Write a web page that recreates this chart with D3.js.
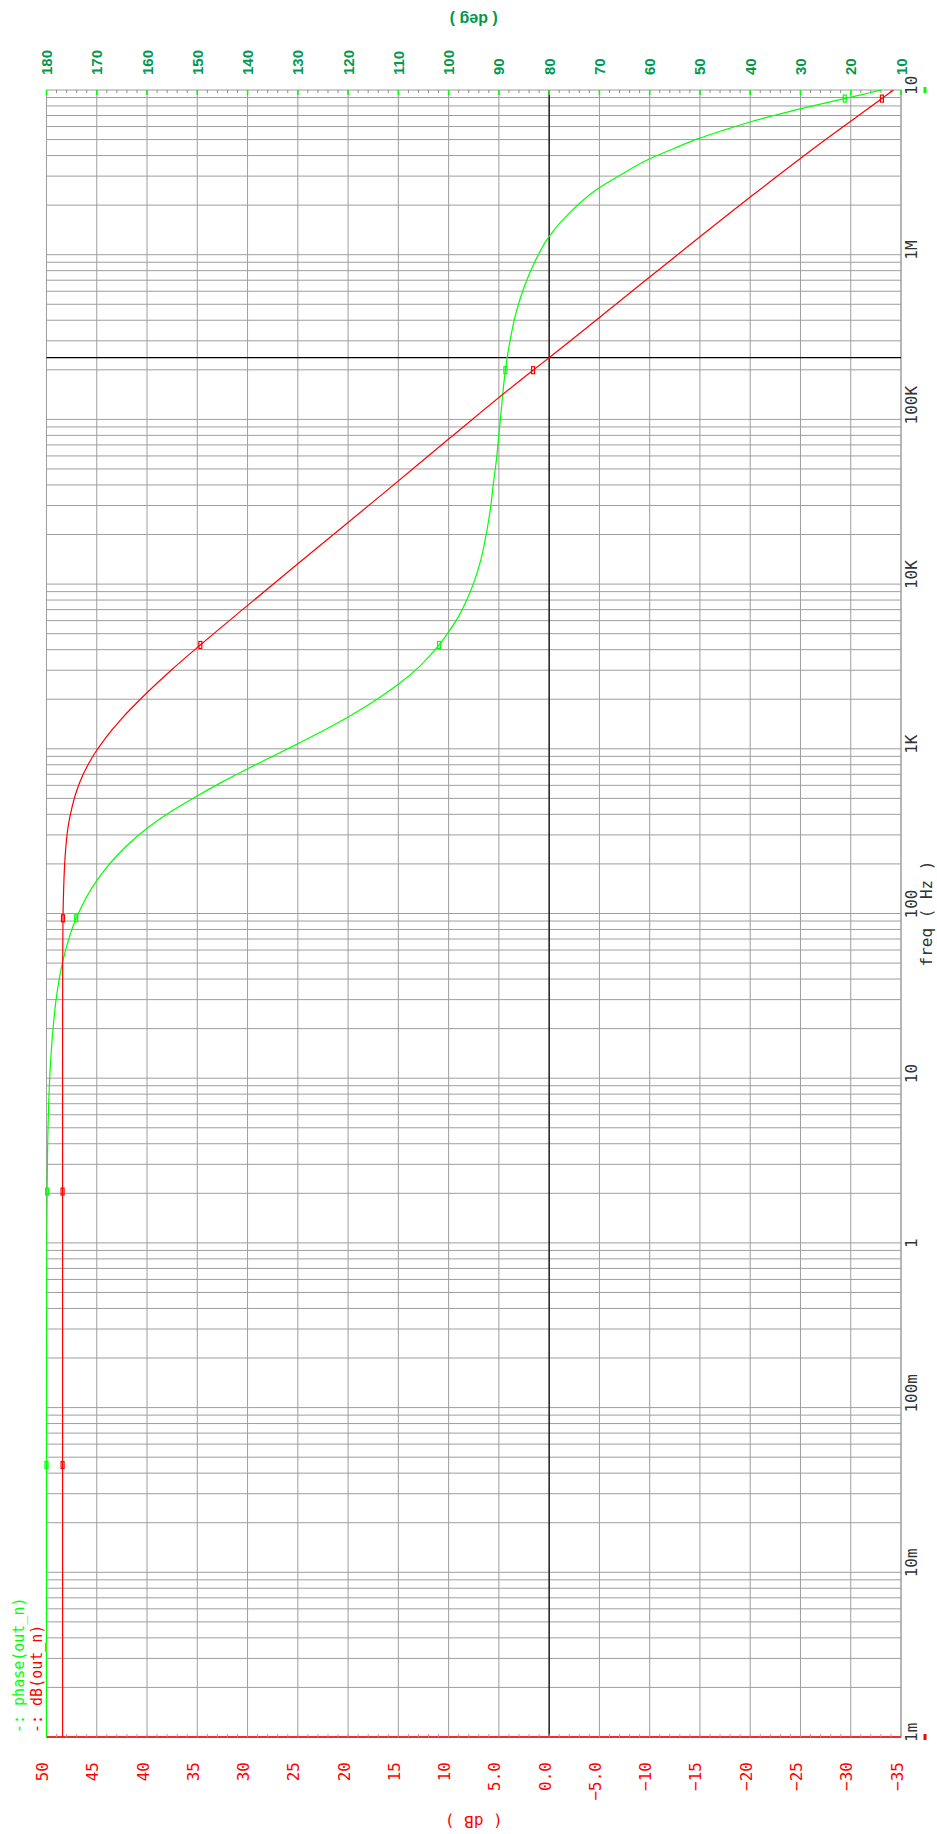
<!DOCTYPE html>
<html>
<head>
<meta charset="utf-8">
<script src="https://cdn.jsdelivr.net/npm/d3@7"></script>
<style>
  html, body { margin: 0; padding: 0; background: #ffffff; }
  svg { display: block; }
</style>
</head>
<body>
<svg id="chart" width="937" height="1834"></svg>
<script>
// ---- AC response of out_n -------------------------------------------------
// Magnitude (dB) samples
const dbFreq   = [1e-3, 0.0448, 2.05, 10, 50, 93.5, 150, 211, 337, 450, 537, 700, 959, 1200, 1469, 2173, 3000, 4270, 7000, 14000, 35300, 76000, 199000, 237000, 740000, 2310000, 5000000, 8870000, 1e7];
const dbValues = [48.4, 48.4, 48.4, 48.4, 48.39, 48.36, 48.28, 48.17, 47.85, 47.43, 47.08, 46.35, 45.1, 43.96, 42.76, 40.06, 37.6, 34.7, 30.5, 24.55, 16.55, 10.0, 1.6, 0.0, -10.1, -20.3, -27.5, -33.1, -34.25];

// Phase (deg) samples
const phaseFreq   = [1e-3, 0.0448, 1, 2.05, 5, 10.2, 20, 29.9, 52.2, 93.5, 160, 250, 329, 420, 512, 630, 762, 900, 1079, 1300, 1567, 2023, 2438, 3200, 4270, 5023, 6300, 8000, 10000, 14000, 20200, 30000, 40600, 60000, 81500, 100000, 135800, 199000, 299000, 454000, 659000, 900000, 1291000, 1800000, 2529000, 3100000, 3758000, 4400000, 5082000, 5700000, 6397000, 7000000, 7709000, 8300000, 8870000, 9400000, 1e7];
const phaseValues = [180.0, 180.0, 179.94, 179.87, 179.7, 179.35, 178.7, 178.1, 176.7, 174.1, 169.9, 164.5, 160.0, 155.0, 150.3, 145.0, 139.8, 135.0, 129.85, 124.7, 119.9, 114.0, 110.2, 105.6, 101.9, 100.2, 98.1, 96.4, 95.1, 93.6, 92.5, 91.6, 91.1, 90.4, 90.0, 89.7, 89.3, 88.7, 87.8, 86.5, 84.8, 82.9, 80.0, 75.9, 70.2, 65.4, 60.5, 55.3, 50.2, 45.3, 40.0, 35.3, 29.9, 25.4, 21.2, 17.5, 14.0];

// Frequencies carrying curve markers
const markerFreqs = [0.0448, 2.05, 93.5, 4270, 199000, 8870000];

// Unity-gain crosshair frequency
const unityFreq = 237000;

// Axis ticks
const freqDecades    = [1e-3, 1e-2, 1e-1, 1, 10, 100, 1e3, 1e4, 1e5, 1e6, 1e7];
const freqTickLabels = ["1m", "10m", "100m", "1", "10", "100", "1K", "10K", "100K", "1M", "10M"];
const dbTicks        = [50, 45, 40, 35, 30, 25, 20, 15, 10, 5, 0, -5, -10, -15, -20, -25, -30, -35];
const dbTickLabels   = ["50", "45", "40", "35", "30", "25", "20", "15", "10", "5.0", "0.0", "\u22125.0", "\u221210", "\u221215", "\u221220", "\u221225", "\u221230", "\u221235"];
const phaseTicks     = [180, 170, 160, 150, 140, 130, 120, 110, 100, 90, 80, 70, 60, 50, 40, 30, 20, 10];

// ---- layout -----------------------------------------------------------------
// The plot is laid out landscape (W x H) and turned a quarter turn counter-clockwise.
const W = 1834, H = 937;
const plot = { left: 97, right: 1744, top: 46.5, bottom: 901 };

const RED = "#ff0000", GREEN = "#00ff00", DKGREEN = "#00994d", GRID = "#9e9e9e";
const MONO = "'DejaVu Sans Mono', 'Liberation Mono', monospace";
const SANS = "'Liberation Sans', Arial, sans-serif";

const svg = d3.select("#chart");
const g = svg.append("g").attr("transform", `translate(0,${W}) rotate(-90)`);

const x = d3.scaleLog().domain([1e-3, 1e7]).range([plot.left, plot.right]);
const yDB = d3.scaleLinear().domain([50, -35]).range([plot.top, plot.bottom]);
const yPh = d3.scaleLinear().domain([180, 10]).range([plot.top, plot.bottom]);

// ---- grid ---------------------------------------------------------------------
const gridG = g.append("g").attr("stroke", GRID).attr("stroke-width", 1).attr("fill", "none");

// frequency grid: 1..9 in every decade
const freqGrid = [];
freqDecades.slice(0, -1).forEach(d => { for (let k = 1; k <= 9; k++) freqGrid.push(d * k); });
gridG.selectAll("line.fg").data(freqGrid).join("line")
  .attr("x1", d => x(d)).attr("x2", d => x(d))
  .attr("y1", plot.top).attr("y2", plot.bottom);

// level grid (shared by dB and phase)
gridG.selectAll("line.lg").data(dbTicks).join("line")
  .attr("x1", plot.left).attr("x2", plot.right)
  .attr("y1", d => yDB(d)).attr("y2", d => yDB(d));

// frame
g.append("rect")
  .attr("x", plot.left).attr("y", plot.top)
  .attr("width", plot.right - plot.left).attr("height", plot.bottom - plot.top)
  .attr("fill", "none").attr("stroke", GRID).attr("stroke-width", 1);

// crosshair at 0 dB / unity-gain frequency
g.append("line").attr("x1", plot.left).attr("x2", plot.right)
  .attr("y1", yDB(0)).attr("y2", yDB(0)).attr("stroke", "#000").attr("stroke-width", 1.2);
g.append("line").attr("x1", x(unityFreq)).attr("x2", x(unityFreq))
  .attr("y1", plot.top).attr("y2", plot.bottom).attr("stroke", "#000").attr("stroke-width", 1.2);

// ---- axis lines and minor ticks ------------------------------------------------
// dB axis (left edge of the landscape plot)
g.append("line").attr("x1", plot.left).attr("x2", plot.left)
  .attr("y1", plot.top).attr("y2", plot.bottom).attr("stroke", RED).attr("stroke-width", 1.5);
const dbMinor = d3.range(-35, 50.5, 1);
g.append("g").selectAll("line").data(dbMinor).join("line")
  .attr("x1", plot.left).attr("x2", plot.left + 3)
  .attr("y1", d => yDB(d)).attr("y2", d => yDB(d))
  .attr("stroke", "#f08080").attr("stroke-width", 1);

// phase axis (right edge)
const phMinor = d3.range(10, 180.5, 2);
g.append("g").selectAll("line").data(phMinor).join("line")
  .attr("x1", plot.right - 3).attr("x2", plot.right)
  .attr("y1", d => yPh(d)).attr("y2", d => yPh(d))
  .attr("stroke", "#8c8c8c").attr("stroke-width", 1);
g.append("g").selectAll("line").data(phaseTicks).join("line")
  .attr("x1", plot.right - 5).attr("x2", plot.right)
  .attr("y1", d => yPh(d)).attr("y2", d => yPh(d))
  .attr("stroke", GREEN).attr("stroke-width", 1.5);

// ---- curves ---------------------------------------------------------------------
const dbData = dbFreq.map((f, i) => ({ f, v: dbValues[i] }));
const phData = phaseFreq.map((f, i) => ({ f, v: phaseValues[i] }));

const lineDB = d3.line().x(d => x(d.f)).y(d => yDB(d.v)).curve(d3.curveMonotoneX);
const linePh = d3.line().x(d => x(d.f)).y(d => yPh(d.v)).curve(d3.curveMonotoneX);

g.append("path").datum(phData).attr("d", linePh)
  .attr("fill", "none").attr("stroke", GREEN).attr("stroke-width", 1.2);
g.append("path").datum(dbData).attr("d", lineDB)
  .attr("fill", "none").attr("stroke", RED).attr("stroke-width", 1.2);

// curve markers: small open bars across each trace
function drawMarkers(data, yScale, color) {
  const pts = markerFreqs.map(f => data.find(d => d.f === f));
  g.append("g").selectAll("rect").data(pts).join("rect")
    .attr("x", d => x(d.f) - 3.5).attr("y", d => yScale(d.v) - 1.5)
    .attr("width", 7).attr("height", 3)
    .attr("fill", "none").attr("stroke", color).attr("stroke-width", 1.2);
}
drawMarkers(phData, yPh, GREEN);
drawMarkers(dbData, yDB, RED);

// ---- labels -----------------------------------------------------------------------
// frequency tick labels (below the landscape plot); the last one runs past the window edge
const clip = svg.append("defs").append("clipPath").attr("id", "freqClip");
clip.append("rect").attr("x", 0).attr("y", 0).attr("width", 1758.5).attr("height", H);
g.append("g").attr("clip-path", "url(#freqClip)")
  .selectAll("text").data(freqDecades).join("text")
  .attr("x", d => x(d) - 5).attr("y", 917)
  .attr("font-family", MONO).attr("font-size", 16).attr("fill", "#333")
  .text((d, i) => freqTickLabels[i]);

g.append("text").attr("x", (plot.left + plot.right) / 2).attr("y", 932)
  .attr("text-anchor", "middle").attr("font-family", MONO).attr("font-size", 16).attr("fill", "#333")
  .text("freq ( Hz )");

// dB tick labels
g.append("g").selectAll("text").data(dbTicks).join("text")
  .attr("x", 72).attr("y", d => yDB(d) + 1.5)
  .attr("text-anchor", "end")
  .attr("font-family", MONO).attr("font-size", 16).attr("fill", RED)
  .text((d, i) => dbTickLabels[i]);

// phase tick labels
g.append("g").selectAll("text").data(phaseTicks).join("text")
  .attr("x", 1759).attr("y", d => yPh(d) + 5.5)
  .attr("font-family", SANS).attr("font-size", 15).attr("font-weight", "bold").attr("fill", DKGREEN)
  .text(d => d);

// axis titles, written along the plot's vertical edges (upside down on the page)
const midX = (plot.top + plot.bottom) / 2;
svg.append("text")
  .attr("transform", `translate(${midX},1821) rotate(180)`)
  .attr("text-anchor", "middle").attr("dominant-baseline", "central")
  .attr("font-family", MONO).attr("font-size", 16).attr("fill", RED)
  .text("( dB )");
svg.append("text")
  .attr("transform", `translate(${midX},19) rotate(180)`)
  .attr("text-anchor", "middle").attr("dominant-baseline", "central")
  .attr("font-family", SANS).attr("font-size", 16).attr("font-weight", "bold").attr("fill", DKGREEN)
  .text("( deg )");

// trace end flags beside the frequency axis
g.append("rect").attr("x", plot.right - 3).attr("y", 923.5).attr("width", 6).attr("height", 3).attr("fill", GREEN);
g.append("rect").attr("x", plot.left - 3).attr("y", 923.5).attr("width", 6).attr("height", 3).attr("fill", RED);

// legend
g.append("text").attr("x", 101).attr("y", 24)
  .attr("font-family", MONO).attr("font-size", 15).attr("fill", GREEN)
  .text("-: phase(out_n)");
g.append("text").attr("x", 101).attr("y", 42)
  .attr("font-family", MONO).attr("font-size", 15).attr("fill", RED)
  .text("-: dB(out_n)");
</script>
</body>
</html>
